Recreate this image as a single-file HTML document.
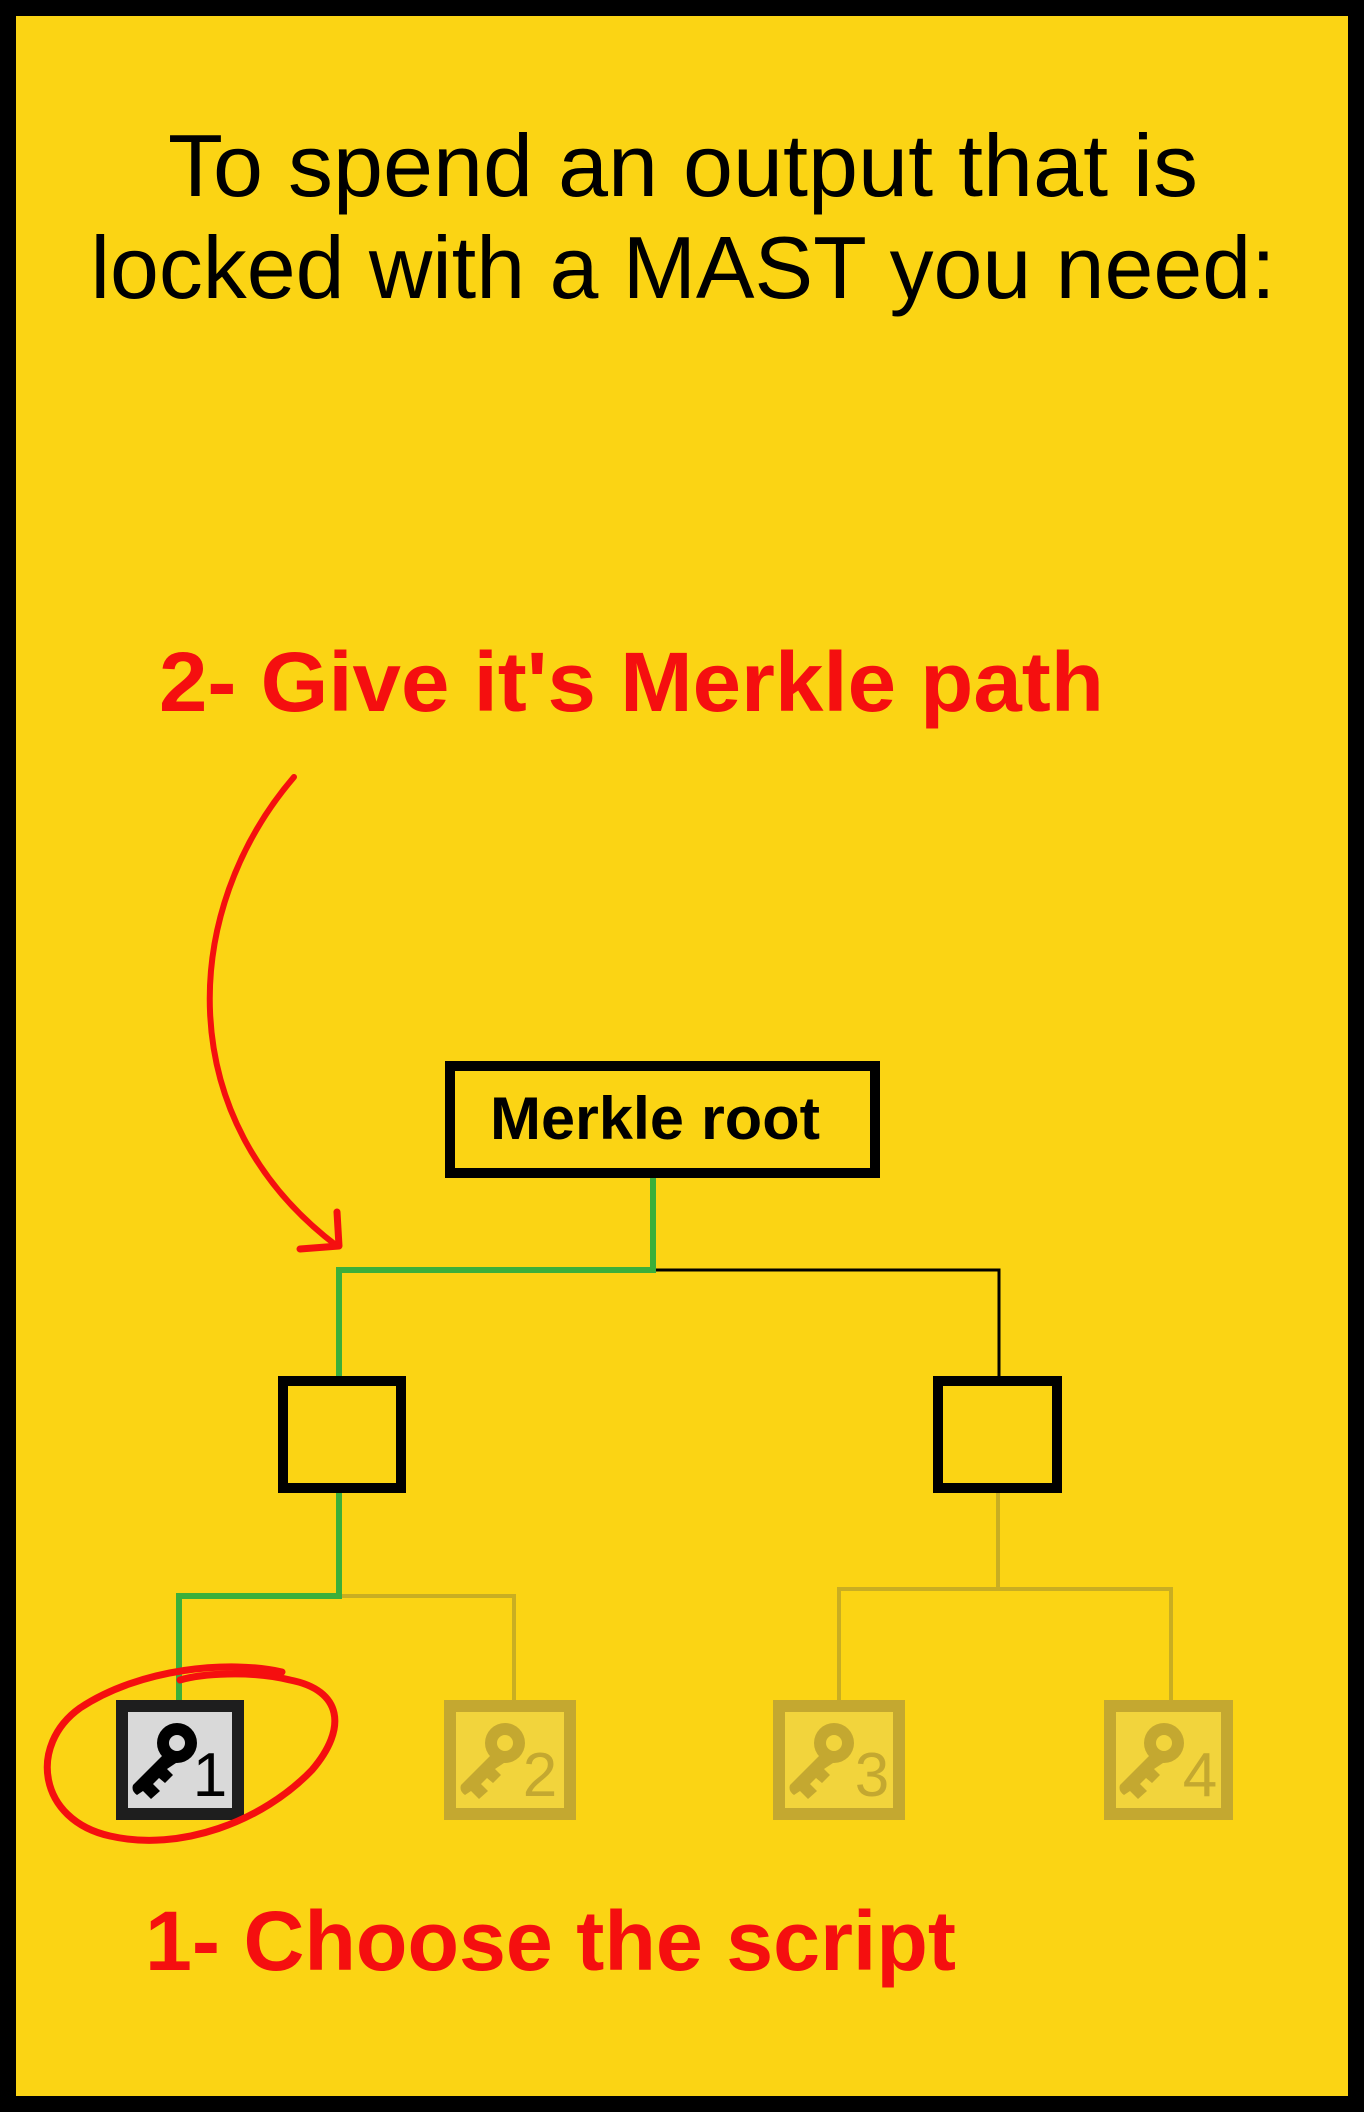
<!DOCTYPE html>
<html><head><meta charset="utf-8"><style>
html,body{margin:0;padding:0;background:#000}
svg{display:block}
</style></head><body>
<svg width="1364" height="2112" viewBox="0 0 1364 2112" xmlns="http://www.w3.org/2000/svg">
<rect x="0" y="0" width="1364" height="2112" fill="#000"/>
<rect x="16" y="16" width="1332" height="2080" fill="#FBD414"/>
<g font-family="'Liberation Sans', sans-serif" fill="#000" text-anchor="middle">
<text x="683" y="196" font-size="88" textLength="1030" lengthAdjust="spacingAndGlyphs">To spend an output that is</text>
<text x="683" y="298" font-size="88" textLength="1185" lengthAdjust="spacingAndGlyphs">locked with a MAST you need:</text>
</g>
<g font-family="'Liberation Sans', sans-serif" fill="#F50F0F" font-weight="bold">
<text x="159" y="711" font-size="84" textLength="945" lengthAdjust="spacingAndGlyphs">2- Give it's Merkle path</text>
<text x="145" y="1970" font-size="84" textLength="811" lengthAdjust="spacingAndGlyphs">1- Choose the script</text>
</g>
<!-- red arrow -->
<path d="M294 777 C 180 910, 170 1120, 337 1246" fill="none" stroke="#F50F0F" stroke-width="6" stroke-linecap="round"/>
<path d="M337 1212 L 339 1246 L 300 1249" fill="none" stroke="#F50F0F" stroke-width="7" stroke-linecap="round" stroke-linejoin="round"/>
<!-- faded lines -->
<g stroke="#C9AE22" stroke-width="4" fill="none">
<path d="M339 1596 H514 V1703"/>
<path d="M998 1492 V1589 M839 1703 V1589 H1171 V1703"/>
</g>
<!-- black line -->
<path d="M653 1270 H999 V1377" stroke="#000" stroke-width="3" fill="none"/>
<!-- green path -->
<path d="M653 1175 V1270 H339 V1377 M339 1492 V1596 H179 V1701" stroke="#3BAF3A" stroke-width="6" fill="none"/>
<!-- boxes -->
<rect x="450" y="1066" width="425" height="107" fill="none" stroke="#000" stroke-width="10"/>
<text x="655" y="1139" font-family="'Liberation Sans', sans-serif" font-weight="bold" font-size="60" text-anchor="middle" textLength="330" lengthAdjust="spacingAndGlyphs">Merkle root</text>
<rect x="283" y="1381" width="118" height="107" fill="none" stroke="#000" stroke-width="10"/>
<rect x="938" y="1381" width="119" height="107" fill="none" stroke="#000" stroke-width="10"/>
<defs>
<g id="key">
<circle cx="0" cy="0" r="20" />
<path d="M-10 8 L-44 42 Q-46 48 -40 52 L-34 48 L-26 56 L-17 48 L-24 41 L-18 35 L-12 40 L-4 32 L-10 26 L8 14 Z"/>
</g>
</defs>
<rect x="122" y="1706" width="116" height="108" fill="#D9D9D9" stroke="#1E1E1E" stroke-width="12"/>
<g fill="#000"><use href="#key" x="177" y="1743"/></g>
<circle cx="177" cy="1743" r="8" fill="#D9D9D9"/>
<text x="210" y="1796" font-family="'Liberation Sans', sans-serif" font-size="62" text-anchor="middle" fill="#000">1</text>

<rect x="450" y="1706" width="120" height="108" fill="#F2D43C" stroke="#C4A830" stroke-width="12"/>
<g fill="#C4A830"><use href="#key" x="505" y="1743"/></g>
<circle cx="505" cy="1743" r="8" fill="#F2D43C"/>
<text x="540" y="1796" font-family="'Liberation Sans', sans-serif" font-size="62" text-anchor="middle" fill="#C4A830">2</text>

<rect x="779" y="1706" width="120" height="108" fill="#F2D43C" stroke="#C4A830" stroke-width="12"/>
<g fill="#C4A830"><use href="#key" x="834" y="1743"/></g>
<circle cx="834" cy="1743" r="8" fill="#F2D43C"/>
<text x="872" y="1796" font-family="'Liberation Sans', sans-serif" font-size="62" text-anchor="middle" fill="#C4A830">3</text>

<rect x="1110" y="1706" width="117" height="108" fill="#F2D43C" stroke="#C4A830" stroke-width="12"/>
<g fill="#C4A830"><use href="#key" x="1164" y="1743"/></g>
<circle cx="1164" cy="1743" r="8" fill="#F2D43C"/>
<text x="1200" y="1796" font-family="'Liberation Sans', sans-serif" font-size="62" text-anchor="middle" fill="#C4A830">4</text>
<!-- red ellipse -->
<path d="M282 1672 C 230 1660, 140 1668, 80 1708 C 28 1745, 38 1820, 110 1836 C 180 1852, 262 1822, 312 1770 C 348 1728, 342 1690, 290 1680 C 250 1670, 200 1674, 180 1680" fill="none" stroke="#F50F0F" stroke-width="7" stroke-linecap="round"/>
</svg>
</body></html>
